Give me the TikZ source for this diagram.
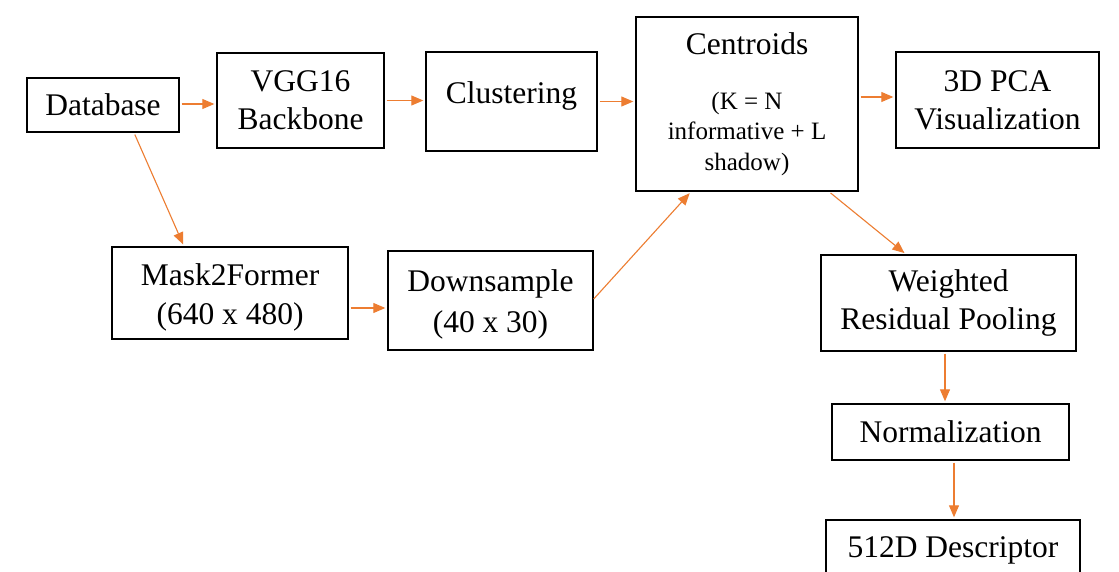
\documentclass[tikz,border=0pt]{standalone}
\usepackage{fontspec}
\setmainfont{Liberation Serif}
\usetikzlibrary{arrows.meta}
\definecolor{flow}{HTML}{ED7D31}
% shift a line of text without changing the size it reports
\newcommand{\nudge}[2]{\raisebox{#1}[\height][\depth]{#2}}
\tikzset{
  blk/.style={draw=black, line width=1.4pt, inner sep=0pt, align=center,
    font=\fontsize{31.5}{38}\selectfont, text=black},
  link/.style={draw=flow, line width=1.1pt,
    -{Triangle[length=12pt,width=10pt]}, shorten <=2pt, shorten >=2pt}
}
\begin{document}
\begin{tikzpicture}[x=1pt, y=-1pt]
  \clip (0,0) rectangle (1119,572);
  \fill[white] (0,0) rectangle (1119,572);

  % processing blocks
  \node[blk, minimum width=152pt, minimum height=54pt]  (db)   at (103,105)   {Database};
  \node[blk, minimum width=167pt, minimum height=95pt]  (vgg)  at (300.5,100.5) {VGG16\\Backbone};
  \node[blk, minimum width=171pt, minimum height=99pt]  (clu)  at (511.5,101.5) {\nudge{6pt}{Clustering}};
  \node[blk, minimum width=222pt, minimum height=174pt,
        font=\fontsize{25}{30.5}\selectfont] (cen) at (747,104)
        {{\fontsize{31.5}{38}\selectfont Centroids}\\[24pt](K = N\\informative + L\\shadow)};
  \node[blk, minimum width=203pt, minimum height=96pt]  (pca)  at (997.5,100) {3D PCA\\Visualization};
  \node[blk, minimum width=236pt, minimum height=92pt]  (m2f)  at (230,293)   {\nudge{-4pt}{Mask2Former}\\\nudge{-5pt}{(640 x 480)}};
  \node[blk, minimum width=205pt, minimum height=99pt]  (dwn)  at (490.5,300.5) {\nudge{-2pt}{Downsample}\\\nudge{-5pt}{(40 x 30)}};
  \node[blk, minimum width=255pt, minimum height=96pt]  (wrp)  at (948.5,303) {Weighted\\Residual Pooling};
  \node[blk, minimum width=237pt, minimum height=56pt]  (nrm)  at (950.5,432) {Normalization};
  \node[blk, minimum width=254pt, minimum height=60pt]  (dsc)  at (953,550)   {512D Descriptor};

  % data flow
  \draw[link] ([yshift=1pt]db.east) -- ([yshift=1pt]db.east -| vgg.west);
  \draw[link] (vgg.east) -- (vgg.east -| clu.west);
  \draw[link] (clu.east) -- (clu.east -| cen.west);
  \draw[link] ([yshift=7pt]cen.east) -- ([yshift=7pt]cen.east -| pca.west);
  \draw[link] ([xshift=31pt]db.south) -- ([xshift=-46pt]m2f.north);
  \draw[link] ([yshift=-15pt]m2f.east) -- ([yshift=-15pt]m2f.east -| dwn.west);
  \draw[link, shorten <=0pt] ([yshift=1.5pt]dwn.east) -- ([xshift=-56pt]cen.south);
  \draw[link] ([xshift=82pt]cen.south) -- ([xshift=-42.5pt]wrp.north);
  \draw[link] ([xshift=-3.5pt]wrp.south) -- ([xshift=-3.5pt]wrp.south |- nrm.north);
  \draw[link] ([xshift=3.5pt]nrm.south) -- ([xshift=3.5pt]nrm.south |- dsc.north);
\end{tikzpicture}
\end{document}
